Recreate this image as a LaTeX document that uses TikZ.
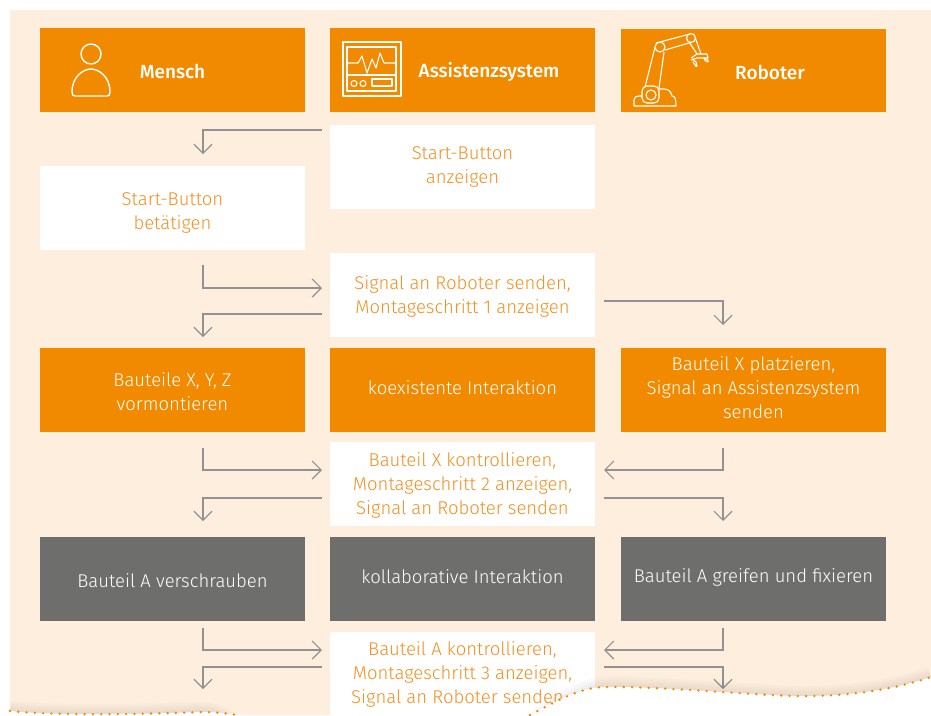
\documentclass[tikz,border=0pt]{standalone}
\usepackage{fontspec}
\setmainfont{Fira Sans}[UprightFont=* Light,BoldFont=* Medium]
\usetikzlibrary{arrows.meta}
\definecolor{bgcream}{HTML}{FDEEDD}
\definecolor{boxorange}{HTML}{F28A00}
\definecolor{txtorange}{HTML}{F39020}
\definecolor{boxgray}{HTML}{6E6E6D}
\definecolor{flowgray}{HTML}{929292}
\tikzset{
  celltext/.style={inner sep=0, align=center, font=\fontsize{18.5}{24}\selectfont},
  cell/.style={celltext, minimum width=265, minimum height=84},
  orangecell/.style={cell, fill=boxorange, text=white},
  graycell/.style={cell, fill=boxgray, text=white},
  whitecell/.style={cell, fill=white, text=txtorange},
  headtext/.style={text=white, inner sep=0, font=\fontsize{19}{24}\selectfont\bfseries},
  flow/.style={draw=flowgray, line width=1.1, -{Straight Barb[length=9,width=18,line width=1.1]}},
  icon/.style={draw=white, line width=1.1, line join=round},
  rand/.style={boxorange, line width=2.6, line cap=round, dash pattern=on 0pt off 8.3pt}
}
\begin{document}
\begin{tikzpicture}[x=1pt,y=-1pt]
\useasboundingbox (0,0) rectangle (931,715);
\fill[bgcream] (10,10) rectangle (931,715);

% header row
\node[orangecell] (mensch) at (172.5,70) {};
\node[orangecell] (assist) at (462.5,70) {};
\node[orangecell, minimum height=83] (robot) at (753.5,70.5) {};
\node[headtext] (menschtext) at (172.5,71.5) {Mensch};
\node[headtext] (assisttext) at (489,71.5) {Assistenzsystem};
\node[headtext] (robottext) at (770,72.5) {Roboter};

% person
\draw[icon, line width=1.4] (91,54) circle [radius=10];
\draw[icon, line width=1.4] (91,69) .. controls (84,69) and (72,76) .. (72,92)
  .. controls (72,95) and (73,96) .. (75,96) -- (107,96)
  .. controls (109,96) and (110,95) .. (110,92)
  .. controls (110,76) and (98,69) .. (91,69);

% monitor
\draw[icon, line width=1.5] (343,42) rectangle (401,96);
\draw[icon] (347,47) rectangle (396,91);
\draw[icon] (347,63) -- (358,63) -- (362,56) -- (367,73) -- (372,59) -- (376,68) -- (380,53) -- (384,63) -- (396,63);
\draw[icon] (347,75) -- (396,75);
\draw[icon] (354,83.5) circle [radius=3];
\draw[icon] (363,83.5) circle [radius=3];
\draw[icon] (372,79) rectangle (392,86);

% robot arm
\draw[icon] (660,47) circle [radius=5];
\draw[icon] (691,38) circle [radius=4.5];
\draw[icon] (656,43) -- (690,34);
\draw[icon] (665,50) -- (689,43);
\draw[icon] (655,47) -- (645,87);
\draw[icon] (664,52) -- (659,88);
\draw[icon] (689,42) -- (697,54);
\draw[icon] (695,37) -- (701,54);
\draw[icon] (691,58) -- (697,54) -- (707,54) -- (708,58) -- (697,58) -- (691,60);
\draw[icon] (692,59) -- (696,62) -- (697,66) .. controls (696,68) and (695,64) .. (693,62);
\draw[icon] (704,58) -- (708,60) -- (708,62) .. controls (706,62) and (704,60) .. (704,58);
\draw[icon] (634,106) -- (634,100) .. controls (634,97) and (636,96) .. (639,96) -- (642,96)
  .. controls (642,92) and (645,89) .. (650,89) -- (664,89)
  .. controls (669,89) and (671,92) .. (672,96) .. controls (675,96) and (676,99) .. (676,106) -- cycle;
\draw[icon, fill=boxorange, rounded corners=5] (642,86) rectangle (659,103);
\draw[icon] (651,95) circle [radius=5];

% rows
\node[whitecell] (anzeige) at (462.5,167) {Start-Button\\anzeigen};
\node[whitecell, label={[celltext,text=txtorange,yshift=-5]center:{Start-Button\\betätigen}}] (betaetigen) at (172.5,208) {};
\node[whitecell, label={[celltext,text=txtorange,yshift=-1]center:{Signal an Roboter senden,\\Montageschritt 1 anzeigen}}] (senden) at (462.5,295) {};
\node[orangecell, label={[celltext,text=white,yshift=-2]center:{Bauteile X, Y, Z\\vormontieren}}] (vormontieren) at (172.5,390) {};
\node[orangecell, label={[celltext,text=white,yshift=2]center:{koexistente Interaktion}}] (koexistent) at (462.5,390) {};
\node[orangecell, label={[celltext,text=white,yshift=2]center:{Bauteil X platzieren,\\Signal an Assistenzsystem\\senden}}] (platzieren) at (753.5,390) {};
\node[whitecell, label={[celltext,text=txtorange,yshift=-1]center:{Bauteil X kontrollieren,\\Montageschritt 2 anzeigen,\\Signal an Roboter senden}}] (kontrolleX) at (462.5,484) {};
\node[graycell, label={[celltext,text=white,yshift=-2]center:{Bauteil A verschrauben}}] (verschrauben) at (172.5,579) {};
\node[graycell, label={[celltext,text=white,yshift=2]center:{kollaborative Interaktion}}] (kollaborativ) at (462.5,579) {};
\node[graycell, label={[celltext,text=white,yshift=2]center:{Bauteil A greifen und fixieren}}] (greifen) at (753.5,579) {};
\node[whitecell] (kontrolleA) at (462.5,674) {Bauteil A kontrollieren,\\Montageschritt 3 anzeigen,\\Signal an Roboter senden\hspace{10pt}\mbox{}};

% connectors
\coordinate (a1) at (322,130);   \coordinate (b1) at (203,154);
\coordinate (a2) at (203,265);   \coordinate (b2) at (322,288);
\coordinate (a3) at (322,314);   \coordinate (b3) at (203,337);
\coordinate (a4) at (604,301);   \coordinate (b4) at (723,325);
\coordinate (a5) at (203,448);   \coordinate (b5) at (322,470);
\coordinate (a6) at (322,498);   \coordinate (b6) at (203,521);
\coordinate (a7) at (723,448);   \coordinate (b7) at (604,470);
\coordinate (a8) at (604,498);   \coordinate (b8) at (723,521);
\coordinate (a9) at (203,628);   \coordinate (b9) at (322,650);
\coordinate (a10) at (322,667);  \coordinate (b10) at (203,689);
\coordinate (a11) at (723,628);  \coordinate (b11) at (604,650);
\coordinate (a12) at (604,667);  \coordinate (b12) at (723,689);
\foreach \n in {1,3,4,6,8,10,12}
  \draw[flow] (a\n) -| (b\n);
\foreach \n in {2,5,7,9,11}
  \draw[flow] (a\n) |- (b\n);

% torn edge, soft shade first
\foreach \w in {5,10,15,20}
  \draw[black, opacity=0.018, line width=\w] (10,711) .. controls (60,716) and (150,714) .. (200,712)
    .. controls (215,712) and (225,716) .. (237,730) -- (530,730)
    .. controls (535,715) and (580,687) .. (605,687)
    .. controls (650,686) and (740,694) .. (793,696)
    .. controls (840,697) and (890,691) .. (931,677);
\fill[white] (0,720) -- (0,710) -- (10,711) .. controls (60,716) and (150,714) .. (200,712)
  .. controls (215,712) and (225,713) .. (237,715) -- (530,715)
  .. controls (555,702) and (580,687) .. (605,687)
  .. controls (650,686) and (740,694) .. (793,696)
  .. controls (840,697) and (890,691) .. (931,677) -- (940,677) -- (940,720) -- cycle;
\draw[rand] (10,711) .. controls (60,716) and (150,714) .. (200,712)
  .. controls (215,712) and (225,713) .. (237,715);
\draw[rand] (530,715) .. controls (555,702) and (580,687) .. (605,687)
  .. controls (650,686) and (740,694) .. (793,696)
  .. controls (840,697) and (890,691) .. (931,677);
\end{tikzpicture}
\end{document}
